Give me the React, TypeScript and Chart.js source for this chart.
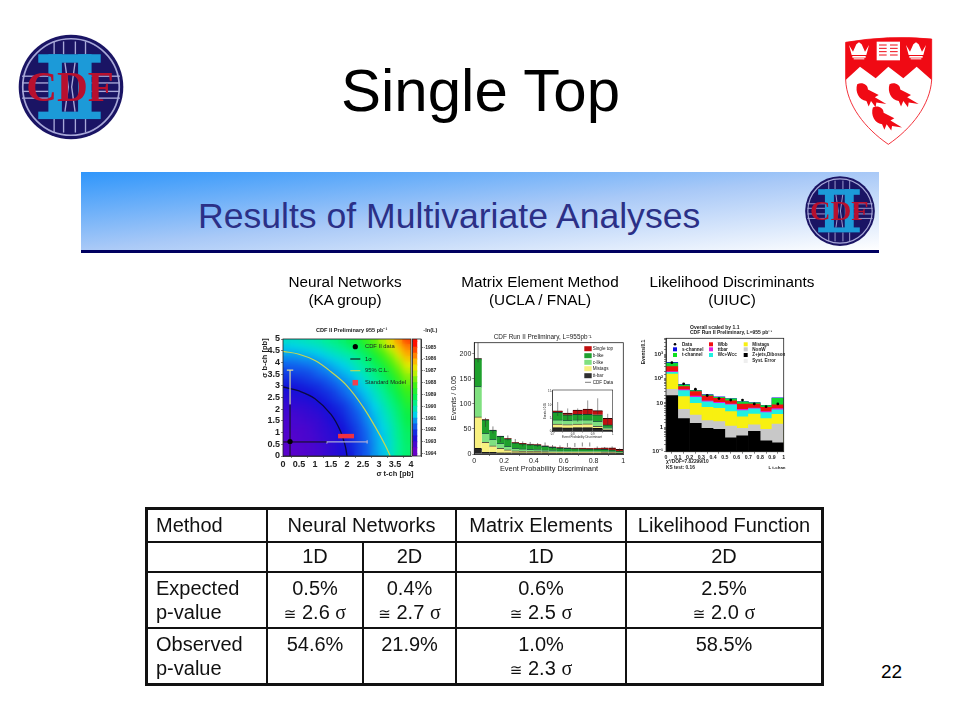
import React, { useEffect, useRef } from "react";
import { Chart, registerables } from "chart.js";

Chart.register(...registerables);

/* ---------- data: neural network likelihood map ---------- */
const heatX = [0.125, 0.375, 0.625, 0.875, 1.125, 1.375, 1.625, 1.875, 2.125, 2.375, 2.625, 2.875, 3.125, 3.375, 3.625, 3.875];
const heatRows = [
  [2, 2, 3, 4, 5, 7, 9, 11, 13, 17, 20, 25, 28, 33, 38, 42],
  [2, 3, 3, 4, 5, 7, 9, 11, 14, 17, 20, 25, 29, 33, 38, 42],
  [3, 3, 4, 4, 6, 7, 9, 11, 14, 17, 21, 25, 29, 33, 38, 43],
  [3, 3, 4, 5, 6, 8, 9, 12, 14, 18, 21, 26, 29, 34, 39, 43],
  [4, 4, 4, 5, 7, 8, 10, 12, 15, 18, 22, 26, 30, 34, 39, 44],
  [4, 5, 5, 6, 7, 9, 11, 13, 16, 19, 23, 27, 31, 35, 40, 45],
  [5, 5, 6, 7, 8, 10, 12, 14, 17, 20, 24, 28, 32, 36, 41, 46],
  [6, 6, 7, 8, 9, 11, 13, 15, 18, 21, 25, 29, 33, 37, 42, 47],
  [7, 8, 8, 9, 11, 12, 14, 16, 19, 23, 26, 30, 34, 39, 43, 49],
  [9, 9, 10, 11, 12, 14, 16, 18, 21, 24, 28, 32, 36, 40, 45, 51],
  [10, 11, 11, 12, 14, 15, 17, 20, 23, 26, 29, 33, 37, 42, 47, 53],
  [12, 12, 13, 14, 15, 17, 19, 22, 24, 28, 31, 35, 39, 44, 49, 56],
  [14, 14, 15, 16, 17, 19, 21, 24, 26, 29, 33, 37, 41, 45, 52, 59],
  [16, 16, 17, 18, 20, 21, 24, 26, 28, 31, 35, 39, 43, 48, 55, 61],
  [18, 19, 19, 20, 22, 24, 26, 28, 30, 34, 37, 41, 45, 51, 58, 65],
  [21, 21, 22, 23, 24, 26, 28, 30, 33, 36, 39, 44, 48, 55, 61, 69],
  [24, 24, 25, 25, 27, 29, 31, 33, 35, 38, 42, 46, 52, 58, 65, 73],
  [27, 27, 28, 29, 30, 32, 34, 36, 38, 41, 44, 50, 56, 62, 70, 77],
  [29, 30, 31, 32, 33, 35, 37, 39, 42, 44, 49, 54, 60, 67, 73, 80],
  [33, 33, 34, 35, 36, 38, 40, 42, 45, 48, 53, 58, 64, 71, 78, 85],
];
const contourOneSigma = [
  { x: 0, y: 2.95 }, { x: 0.5, y: 2.78 }, { x: 1, y: 2.45 }, { x: 1.5, y: 1.78 },
  { x: 1.8, y: 1.05 }, { x: 1.95, y: 0.4 }, { x: 2, y: 0 },
];
const contour95 = [
  { x: 0, y: 4.47 }, { x: 0.5, y: 4.35 }, { x: 1, y: 4.08 }, { x: 1.5, y: 3.6 }, { x: 2, y: 3 },
  { x: 2.5, y: 2.1 }, { x: 2.9, y: 1.2 }, { x: 3.2, y: 0.45 }, { x: 3.35, y: 0 },
];
const dataPoint = [{ x: 0.22, y: 0.62 }];
const standardModel = [{ x: 1.72, y: 0.85 }, { x: 2.22, y: 0.85 }];
const horizBlack = [{ x: 0, y: 0.6 }, { x: 1.37, y: 0.6 }];
const horizGrey = [{ x: 1.37, y: 0.53 }, { x: 1.37, y: 0.6 }, { x: 2.63, y: 0.6 }, { x: 2.63, y: 0.53 }, { x: 2.63, y: 0.67 }];
const vertBlack = [{ x: 0.22, y: 0 }, { x: 0.22, y: 2.2 }];
const vertYellow = [{ x: 0.22, y: 2.2 }, { x: 0.22, y: 3.67 }, { x: 0.12, y: 3.67 }, { x: 0.32, y: 3.67 }];
const colorbarLevels = [-1994.5, -1994, -1993.5, -1993, -1992.5, -1992, -1991.5, -1991, -1990.5, -1990, -1989.5, -1989, -1988.5, -1988, -1987.5, -1987, -1986.5, -1986, -1985.5, -1985, -1984.5];

/* ---------- data: matrix element ---------- */
const meBins = [0.025, 0.075, 0.125, 0.175, 0.225, 0.275, 0.325, 0.375, 0.425, 0.475, 0.525, 0.575, 0.625, 0.675, 0.725, 0.775, 0.825, 0.875, 0.925, 0.975];
const meTtbar = [11, 3, 3, 2, 2, 2, 2, 2, 2, 2, 1.5, 1.5, 1.5, 1.5, 1.5, 1.5, 1.5, 1.5, 1.5, 1];
const meMistag = [63, 20, 13, 9, 6, 4, 3.5, 3, 3, 2.5, 2.5, 2, 2, 2, 2, 2, 2, 1.5, 1.5, 1];
const meCLike = [61, 18, 13, 10, 7, 5, 4.5, 4, 3.5, 3, 3, 2.5, 2.5, 2, 2, 2, 2, 2, 1.5, 1];
const meBLike = [55, 27, 18, 14, 15, 11, 10, 9.5, 9, 7.5, 6, 5.5, 5, 5, 4.5, 4, 4, 4, 3.5, 2.5];
const meSingleTop = [0.3, 0.5, 0.6, 0.7, 0.8, 0.8, 1, 1, 1, 1, 1, 1, 1, 1.2, 1.5, 1.8, 2, 3, 4, 3.5];
const meData = [205, 63, 48, 30, 32, 25, 20, 20, 18, 19, 14, 13, 18, 18, 19, 19, 12, 11, 12, 8];
const meErr = [22, 9, 7, 6, 5, 5, 5, 4, 4, 4, 4, 4, 4, 4, 4, 4, 3, 3, 3, 3];

const insetBins = [0.725, 0.775, 0.825, 0.875, 0.925, 0.975];
const insetTtbar = [1.5, 1.4, 1.5, 1.5, 1.2, 0.6];
const insetMistag = [1.3, 1.2, 1.3, 1.4, 0.8, 0.2];
const insetCLike = [1.6, 1.6, 1.6, 1.5, 1.9, 0.7];
const insetBLike = [2.8, 2.1, 2.1, 2.1, 2.4, 1];
const insetSingleTop = [0.55, 0.6, 1.6, 1.9, 1.6, 2.5];
const insetData = [8.5, 6.5, 6.2, 9, 9.5, 4.5];
const insetErr = [2.6, 2.2, 2.5, 2.7, 3, 2.2];

/* ---------- data: likelihood (cumulative stack tops) ---------- */
const llBins = [0.05, 0.15, 0.25, 0.35, 0.45, 0.55, 0.65, 0.75, 0.85, 0.95];
const llZjets = [20, 2.3, 1.46, 0.9, 0.83, 0.37, 0.45, 0.68, 0.28, 0.23];
const llNonW = [36, 5.5, 3.2, 1.9, 1.7, 1.13, 0.9, 1.25, 0.83, 1.37];
const llMistag = [150, 18, 9.7, 6.6, 6, 4.4, 2.7, 3.5, 2.3, 3.4];
const llWcc = [177, 32, 17, 11, 9.7, 8.3, 4.8, 5.7, 4, 5.2];
const llTtbar = [190, 35, 19, 12, 10.5, 9, 5.4, 6.2, 4.4, 5.8];
const llWbb = [310, 47, 29, 19, 15.5, 12, 9, 9, 6.6, 8.3];
const llTchan = [430, 55, 32, 21, 17, 14.6, 11, 10, 7.8, 15.5];
const llSchan = [460, 58, 33, 22, 17.5, 15, 11.3, 10.3, 8, 16];
const llData = [440, 60, 36, 20, 15, 13, 13, 9, 7, 9];

/* ---------- helpers ---------- */
const FAMILY = "'Liberation Sans', Arial, sans-serif";
const font = (size: number, weight: any = "normal") => ({ family: FAMILY, size, weight });
const numLabel = (v: any) => String(Math.round(Number(v) * 10) / 10);
const colorStops: [number, number[]][] = [
  [0, [104, 0, 200]], [12, [20, 16, 216]], [22, [16, 110, 240]], [30, [0, 210, 235]], [38, [0, 240, 150]],
  [46, [10, 240, 70]], [56, [70, 240, 16]], [68, [225, 240, 0]], [76, [255, 176, 0]], [90, [255, 16, 0]],
];
function levelColor(v: number) {
  for (let i = 1; i < colorStops.length; i++) {
    const [a, ca] = colorStops[i - 1];
    const [b, cb] = colorStops[i];
    if (v <= b) {
      const t = Math.max(0, (v - a) / (b - a));
      return `rgb(${ca.map((c, k) => Math.round(c + (cb[k] - c) * t)).join(",")})`;
    }
  }
  return "rgb(255,16,0)";
}

type Item = {
  x: number; y: number; text?: string; size?: number; weight?: string; color?: string; align?: CanvasTextAlign; rot?: number;
  rect?: [number, number, string]; dot?: [number, string]; dash?: [number, string, number];
};
function overlay(ox: number, oy: number, items: Item[], whiteArea = false, frameWidth = 0.8) {
  return {
    id: "overlay",
    beforeDatasetsDraw(chart: any) {
      if (!whiteArea) return;
      const a = chart.chartArea;
      chart.ctx.save();
      chart.ctx.fillStyle = "#fff";
      chart.ctx.fillRect(a.left, a.top, a.right - a.left, a.bottom - a.top);
      chart.ctx.restore();
    },
    afterDraw(chart: any) {
      const ctx = chart.ctx;
      const a = chart.chartArea;
      ctx.save();
      ctx.strokeStyle = "#222";
      ctx.lineWidth = frameWidth;
      ctx.strokeRect(a.left, a.top, a.right - a.left, a.bottom - a.top);
      for (const it of items) {
        const px = it.x - ox;
        const py = it.y - oy;
        if (it.rect) {
          ctx.fillStyle = it.rect[2];
          ctx.fillRect(px - it.rect[0] / 2, py - it.rect[1] / 2, it.rect[0], it.rect[1]);
        }
        if (it.dot) {
          ctx.fillStyle = it.dot[1];
          ctx.beginPath();
          ctx.arc(px, py, it.dot[0], 0, Math.PI * 2);
          ctx.fill();
        }
        if (it.dash) {
          ctx.strokeStyle = it.dash[1];
          ctx.lineWidth = it.dash[2];
          ctx.beginPath();
          ctx.moveTo(px - it.dash[0] / 2, py);
          ctx.lineTo(px + it.dash[0] / 2, py);
          ctx.stroke();
        }
        if (it.text) {
          ctx.save();
          ctx.translate(px, py);
          if (it.rot) ctx.rotate(it.rot);
          ctx.font = `${it.weight || "normal"} ${it.size || 6}px ${FAMILY}`;
          ctx.fillStyle = it.color || "#222";
          ctx.textAlign = it.align || "left";
          ctx.textBaseline = "middle";
          ctx.fillText(it.text, 0, 0);
          ctx.restore();
        }
      }
      ctx.restore();
    },
  };
}

/* Softens the finished heat cells so the map reads as a smooth gradient. */
function smoothMap(lastBarIndex: number, blurPx: number) {
  return {
    id: "smoothMap",
    afterDatasetDraw(chart: any, args: any) {
      if (args.index !== lastBarIndex) return;
      const a = chart.chartArea;
      const ctx = chart.ctx;
      const w = a.right - a.left;
      const h = a.bottom - a.top;
      ctx.save();
      ctx.beginPath();
      ctx.rect(a.left, a.top, w, h);
      ctx.clip();
      ctx.filter = `blur(${blurPx}px)`;
      ctx.drawImage(chart.canvas, a.left, a.top, w, h, a.left, a.top, w, h);
      ctx.restore();
    },
  };
}

function axis(extra: any, fitSize: number, axisName: "x" | "y", tickFont: any, pad = 1, tickLen = 2) {
  return {
    ...extra,
    offset: false,
    grid: { drawOnChartArea: false, drawTicks: true, tickLength: tickLen, tickColor: "#333", tickWidth: 0.6 },
    border: { display: true, color: "#222", width: 0.8 },
    ticks: { font: tickFont, color: "#222", padding: pad, autoSkip: false, maxRotation: 0, minRotation: 0, includeBounds: false, callback: numLabel, ...(extra.ticks || {}) },
    afterFit(s: any) {
      if (axisName === "x") s.height = fitSize;
      else s.width = fitSize;
    },
  };
}

const baseOptions = (top: number, right: number, left = 0, bottom = 0) => ({
  responsive: false,
  animation: false as const,
  events: [] as any[],
  layout: { autoPadding: false, padding: { top, right, left, bottom } },
  plugins: { legend: { display: false }, title: { display: false }, tooltip: { enabled: false } },
});

function errorSegments(xs: number[], ys: number[], es: number[]) {
  const out: any[] = [];
  xs.forEach((x, i) => {
    out.push({ x, y: ys[i] - es[i] }, { x, y: ys[i] + es[i] }, { x, y: null });
  });
  return out;
}
const pairs = (xs: number[], ys: number[]) => xs.map((x, i) => ({ x, y: ys[i] }));

const lineDs = (data: any[], color: string, width: number, extra: any = {}) => ({
  type: "line" as const, data, borderColor: color, borderWidth: width, pointRadius: 0, fill: false, order: -1, parsing: true, ...extra,
});

const edge = { top: 1, left: 0, right: 0, bottom: 0 };
const stackBar = (data: any[], color: string, top: string) => ({
  type: "bar" as const, data, backgroundColor: color, borderColor: top, borderWidth: edge, borderSkipped: false, stack: "h",
  barPercentage: 1, categoryPercentage: 1, inflateAmount: 0.4,
});

/* ---------- chart configs ---------- */
function heatConfig() {
  const ox = 250, oy = 322;
  const bars = heatRows.map((row) => ({
    type: "bar" as const,
    data: heatX.map((x) => ({ x, y: 0.25 })),
    backgroundColor: row.map(levelColor),
    stack: "heat",
    barPercentage: 1,
    categoryPercentage: 1,
    inflateAmount: 0.7,
  }));
  const items: Item[] = [
    { x: 351.7, y: 330, text: "CDF II Preliminary 955 pb⁻¹", size: 5.6, weight: "bold", align: "center" },
    { x: 265, y: 358, text: "σ b-ch [pb]", size: 7.5, weight: "bold", align: "center", rot: -Math.PI / 2 },
    { x: 395, y: 474, text: "σ t-ch [pb]", size: 7.5, weight: "bold", align: "center" },
    { x: 355.3, y: 346.7, dot: [2.6, "#000"] },
    { x: 365, y: 346.7, text: "CDF II data", size: 5.8 },
    { x: 355.3, y: 359, dash: [10, "#111", 1.1] },
    { x: 365, y: 359, text: "1σ", size: 5.8 },
    { x: 355.3, y: 370.7, dash: [10, "#c8d850", 1.1] },
    { x: 365, y: 370.7, text: "95% C.L.", size: 5.8 },
    { x: 355.3, y: 382.7, rect: [5.5, 5.5, "#f04050"] },
    { x: 365, y: 382.7, text: "Standard Model", size: 5.8 },
  ];
  const lines = [
    lineDs(dataPoint, "#000", 0, { pointRadius: 2.6, pointBackgroundColor: "#000", showLine: false, order: -3 }),
    lineDs(standardModel, "#f03040", 4.5, { order: -2 }),
    lineDs(horizBlack, "#111", 1),
    lineDs(horizGrey, "#a8a8d8", 1.3),
    lineDs(vertBlack, "#111", 1),
    lineDs(vertYellow, "#d8d8a0", 1.2),
    lineDs(contourOneSigma, "#0a0a40", 1.3, { tension: 0.4 }),
    lineDs(contour95, "#c8d850", 1.2, { tension: 0.4 }),
  ];
  return {
    type: "bar" as const,
    data: { datasets: [...lines, ...bars] },
    options: {
      ...baseOptions(339 - oy, 430 - 411),
      scales: {
        x: axis({ type: "linear", min: 0, max: 4, ticks: { stepSize: 0.5 } }, 490 - 456, "x", font(9, "bold")),
        y: axis({ type: "linear", min: 0, max: 5, ticks: { stepSize: 0.5 } }, 283 - ox, "y", font(9, "bold")),
      },
    },
    plugins: [smoothMap(lines.length, 3), overlay(ox, oy, items)],
  };
}

function colorbarConfig() {
  const ox = 405, oy = 322;
  return {
    type: "bar" as const,
    data: {
      labels: ["z"],
      datasets: colorbarLevels.map((l) => ({
        data: [[l, l + 0.5]],
        backgroundColor: levelColor((l + 1994) * 10),
        grouped: false,
        barPercentage: 1,
        categoryPercentage: 1,
        inflateAmount: 0.5,
      })),
    },
    options: {
      ...baseOptions(339 - oy, 0, 412.5 - ox, 490 - 456),
      scales: {
        x: { display: false, offset: false },
        y: axis({ type: "linear", position: "right", min: -1994.2, max: -1984.3, ticks: { stepSize: 1, callback: (v: any) => String(Math.round(v)) } },
          450 - 421, "y", font(5, "bold"), 0.5, 2),
      },
    },
    plugins: [overlay(ox, oy, [{ x: 430.3, y: 330, text: "-ln(L)", size: 5.6, weight: "bold", align: "center" }])],
  };
}

function meConfig() {
  const ox = 445, oy = 325;
  const t = (y: number, text: string, color: string): Item[] => [
    { x: 588, y, rect: [7.4, 5, color] },
    { x: 592.7, y, text, size: 4.6 },
  ];
  const items: Item[] = [
    { x: 542.7, y: 337.3, text: "CDF Run II Preliminary, L=955pb⁻¹", size: 6.4, align: "center" },
    { x: 454, y: 398, text: "Events / 0.05", size: 7.6, align: "center", rot: -Math.PI / 2 },
    { x: 549, y: 469, text: "Event Probability Discriminant", size: 7.4, align: "center" },
    ...t(348.7, "Single top", "#c01010"),
    ...t(355.7, "b-like", "#20a030"),
    ...t(362.3, "c-like", "#80e080"),
    ...t(368.7, "Mistags", "#f8f080"),
    ...t(375.7, "tt-bar", "#303030"),
    { x: 588, y: 382.3, dash: [6, "#222", 0.6] },
    { x: 592.7, y: 382.3, text: "CDF Data", size: 4.6 },
  ];
  return {
    type: "bar" as const,
    data: {
      datasets: [
        stackBar(pairs(meBins, meTtbar), "#262626", "#111"),
        stackBar(pairs(meBins, meMistag), "#f8f080", "#554"),
        stackBar(pairs(meBins, meCLike), "#80e080", "#264"),
        stackBar(pairs(meBins, meBLike), "#1ea02c", "#143"),
        stackBar(pairs(meBins, meSingleTop), "#c01010", "#300"),
        lineDs(errorSegments(meBins, meData, meErr), "#333", 0.6),
      ],
    },
    options: {
      ...baseOptions(342.7 - oy, 635 - 623.3),
      scales: {
        x: axis({ type: "linear", min: 0, max: 1, ticks: { stepSize: 0.2 } }, 490 - 454, "x", font(7)),
        y: axis({ type: "linear", min: 0, max: 222, ticks: { stepSize: 50 } }, 474.3 - ox, "y", font(7)),
      },
    },
    plugins: [overlay(ox, oy, items)],
  };
}

function insetConfig() {
  const ox = 535, oy = 386;
  const items: Item[] = [
    { x: 545, y: 411, text: "Events / 0.05", size: 2.8, align: "center", rot: -Math.PI / 2 },
    { x: 582, y: 437, text: "Event Probability Discriminant", size: 3, align: "center" },
  ];
  return {
    type: "bar" as const,
    data: {
      datasets: [
        stackBar(pairs(insetBins, insetTtbar), "#262626", "#111"),
        stackBar(pairs(insetBins, insetMistag), "#f8f080", "#554"),
        stackBar(pairs(insetBins, insetCLike), "#80e080", "#264"),
        stackBar(pairs(insetBins, insetBLike), "#1ea02c", "#143"),
        stackBar(pairs(insetBins, insetSingleTop), "#c01010", "#300"),
        lineDs(errorSegments(insetBins, insetData, insetErr), "#333", 0.5),
      ],
    },
    options: {
      ...baseOptions(390 - oy, 617 - 612.7),
      scales: {
        x: axis({ type: "linear", min: 0.7, max: 1, ticks: { stepSize: 0.1 } }, 441 - 431.7, "x", font(2.8), 0.2, 0.8),
        y: axis({ type: "linear", min: 0, max: 15.6, ticks: { stepSize: 5 } }, 552.7 - ox, "y", font(2.8), 0.5, 1),
      },
    },
    plugins: [overlay(ox, oy, items, true, 0.6)],
  };
}

function llConfig() {
  const ox = 640, oy = 320;
  const bar = (vals: number[], color: string) => ({
    type: "bar" as const, data: pairs(llBins, vals), backgroundColor: color, grouped: false,
    barPercentage: 1, categoryPercentage: 1, inflateAmount: 0.3,
  });
  const items: Item[] = [
    { x: 690, y: 327.3, text: "Overall scaled by 1.1", size: 5, weight: "bold" },
    { x: 690, y: 332.7, text: "CDF Run II Preliminary, L=955 pb⁻¹", size: 5, weight: "bold" },
    { x: 644, y: 352, text: "Events/0.1", size: 5, weight: "bold", align: "center", rot: -Math.PI / 2 },
    { x: 666, y: 462, text: "χ²/DOF=7.82299/10", size: 4.8, weight: "bold" },
    { x: 666, y: 467.5, text: "KS test: 0.16", size: 4.8, weight: "bold" },
    { x: 777, y: 468, text: "L t-chan", size: 4.4, weight: "bold", align: "center" },
    { x: 675, y: 344.3, dot: [1.3, "#000"] },
    { x: 682, y: 344.3, text: "Data", size: 4.6, weight: "bold" },
    { x: 675, y: 349.3, rect: [4, 4, "#1010e0"] },
    { x: 682, y: 349.3, text: "s-channel", size: 4.6, weight: "bold" },
    { x: 675, y: 355, rect: [4, 4, "#10e020"] },
    { x: 682, y: 355, text: "t-channel", size: 4.6, weight: "bold" },
    { x: 711, y: 344.3, rect: [4, 4, "#f01010"] },
    { x: 717.7, y: 344.3, text: "Wbb", size: 4.6, weight: "bold" },
    { x: 711, y: 349.3, rect: [4, 4, "#e020e0"] },
    { x: 717.7, y: 349.3, text: "ttbar", size: 4.6, weight: "bold" },
    { x: 711, y: 355, rect: [4, 4, "#20f0e0"] },
    { x: 717.7, y: 355, text: "Wc+Wcc", size: 4.6, weight: "bold" },
    { x: 745.7, y: 344.3, rect: [4, 4, "#f8f010"] },
    { x: 752.3, y: 344.3, text: "Mistags", size: 4.6, weight: "bold" },
    { x: 745.7, y: 349.3, rect: [4, 4, "#c8c8c8"] },
    { x: 752.3, y: 349.3, text: "NonW", size: 4.6, weight: "bold" },
    { x: 745.7, y: 355, rect: [4, 4, "#000"] },
    { x: 752.3, y: 355, text: "Z+jets,Diboson", size: 4.6, weight: "bold" },
    { x: 745.7, y: 361, rect: [4, 4, "#eeeeee"] },
    { x: 752.3, y: 361, text: "Syst. Error", size: 4.6, weight: "bold" },
  ];
  return {
    type: "bar" as const,
    data: {
      datasets: [
        lineDs(pairs(llBins, llData), "#000", 0, { showLine: false, pointRadius: 1.4, pointBackgroundColor: "#000", order: -2 }),
        bar(llZjets, "#000000"),
        bar(llNonW, "#c8c8c8"),
        bar(llMistag, "#f8f010"),
        bar(llWcc, "#20f0e0"),
        bar(llTtbar, "#e020e0"),
        bar(llWbb, "#f01010"),
        bar(llTchan, "#10d830"),
        bar(llSchan, "#1010e0"),
      ],
    },
    options: {
      ...baseOptions(338.3 - oy, 800 - 783.7),
      scales: {
        x: axis({ type: "linear", min: 0, max: 1, ticks: { stepSize: 0.1 } }, 495 - 451.7, "x", font(5.2, "bold"), 0.5),
        y: axis({
          type: "logarithmic", min: 0.1, max: 4400,
          ticks: {
            callback: (v: any) => {
              const l = Math.log10(v);
              if (Math.abs(l - Math.round(l)) > 1e-6) return "";
              return ({ "-1": "10⁻¹", "0": "1", "1": "10", "2": "10²", "3": "10³" } as any)[String(Math.round(l))] ?? "";
            },
          },
        }, 666 - ox, "y", font(6, "bold")),
      },
    },
    plugins: [overlay(ox, oy, items)],
  };
}

/* ---------- components ---------- */
function Plot({ x, y, w, h, config }: { x: number; y: number; w: number; h: number; config: () => any }) {
  const ref = useRef<HTMLCanvasElement>(null);
  useEffect(() => {
    const c = new Chart(ref.current as any, config());
    return () => c.destroy();
  }, []);
  return (
    <canvas
      ref={ref}
      width={w}
      height={h}
      style={{ position: "absolute", left: x, top: y, width: w, height: h, filter: "blur(0.55px)" }}
    />
  );
}

function CdfLogo({ x, y, w, h }: { x: number; y: number; w: number; h: number }) {
  const navy = "#1a1464";
  const lilac = "#a8a8d8";
  const cyan = "#1c9ad8";
  return (
    <svg viewBox="-160 -160 320 320" style={{ position: "absolute", left: x, top: y, width: w, height: h, filter: "blur(0.4px)" }}>
      <circle r={155} fill={navy} />
      <circle r={143} fill="none" stroke={lilac} strokeWidth={5} />
      {[-50, -22, 13, 43].map((v) => (
        <g key={"v" + v} stroke={lilac} strokeWidth={4}>
          <line x1={v} x2={v} y1={-135} y2={-97} />
          <line x1={v} x2={v} y1={95} y2={135} />
        </g>
      ))}
      {[-32, -12, 13, 33].map((v) => (
        <g key={"h" + v} stroke={lilac} strokeWidth={4}>
          <line x1={-145} x2={-67} y1={v} y2={v} />
          <line x1={61} x2={145} y1={v} y2={v} />
        </g>
      ))}
      <rect x={-97} y={-97} width={185} height={25} fill={cyan} />
      <rect x={-97} y={73} width={185} height={22} fill={cyan} />
      <rect x={-67} y={-97} width={40} height={190} fill={cyan} />
      <rect x={21} y={-97} width={40} height={190} fill={cyan} />
      <path d="M-18,-72 L-8,0 L-18,73 M12,-72 L2,0 L12,73" fill="none" stroke={lilac} strokeWidth={4} />
      <text x={-3} y={42} textAnchor="middle" fontFamily="'Liberation Serif', serif" fontWeight="bold" fontSize={124} fill="#b8102e" textLength={260} lengthAdjust="spacingAndGlyphs">
        CDF
      </text>
    </svg>
  );
}

function Bird({ x, y }: { x: number; y: number }) {
  return (
    <path
      transform={`translate(${x} ${y}) scale(1.15)`}
      fill="#f00a14"
      d="M-36,-30 C-24,-36 -8,-30 -8,-16 L20,-2 L10,4 L40,22 L14,18 L12,30 L0,14 L-6,28 L-12,14 C-32,10 -42,-10 -36,-30Z"
    />
  );
}
function Crown({ x, y }: { x: number; y: number }) {
  return (
    <g transform={`translate(${x} ${y})`} fill="#fff">
      <path d="M-30,-22 L-18,-2 L-8,-24 L0,-30 L8,-24 L18,-2 L30,-22 L22,8 L-22,8Z" />
      <rect x={-20} y={11} width={40} height={5} />
      <rect x={-16} y={18} width={32} height={3} />
    </g>
  );
}
function Shield() {
  return (
    <svg viewBox="0 0 315 375" style={{ position: "absolute", left: 835, top: 25, width: 105, height: 125, filter: "blur(0.35px)" }}>
      <path d="M32,52 Q160,30 290,42 L290,165 C285,240 230,310 160,358 C90,310 35,240 32,165Z" fill="#fff" stroke="#f00a14" strokeWidth={2.5} />
      <path d="M32,52 Q160,30 290,42 L290,165 L245,125 L205,160 L160,125 L122,160 L75,125 L32,165Z" fill="#f00a14" />
      <Crown x={72} y={82} />
      <Crown x={243} y={82} />
      <rect x={125} y={50} width={70} height={56} fill="#fff" />
      {[60, 70, 80, 90].map((v) => (
        <g key={v} stroke="#f00a14" strokeWidth={3}>
          <line x1={132} x2={155} y1={v} y2={v} />
          <line x1={165} x2={188} y1={v} y2={v} />
        </g>
      ))}
      <Bird x={108} y={212} />
      <Bird x={205} y={212} />
      <Bird x={155} y={282} />
    </svg>
  );
}

const abs = (left: number, top: number, extra: React.CSSProperties = {}): React.CSSProperties => ({
  position: "absolute", left, top, fontFamily: FAMILY, color: "#000", whiteSpace: "nowrap", ...extra,
});

function PanelTitle({ cx, a, b }: { cx: number; a: string; b: string }) {
  return (
    <div style={abs(cx - 110, 273, { width: 220, textAlign: "center", fontSize: 15.3, lineHeight: "18px", filter: "blur(0.3px)" })}>
      {a}
      <br />
      {b}
    </div>
  );
}

const Sig = ({ v }: { v: string }) => (
  <>
    <span style={{ fontFamily: "'DejaVu Sans'", fontSize: 15 }}>≅</span> {v} <span style={{ fontFamily: "'Liberation Serif', serif" }}>σ</span>
  </>
);

const cellStyle: React.CSSProperties = { border: "2px solid #111", padding: "0", textAlign: "center", verticalAlign: "top" };
const top5: React.CSSProperties = { ...cellStyle, paddingTop: 4 };
const mid: React.CSSProperties = { ...cellStyle, verticalAlign: "middle" };
const leftCell: React.CSSProperties = { ...cellStyle, textAlign: "left", paddingLeft: 8, paddingTop: 4 };
const leftMid: React.CSSProperties = { ...mid, textAlign: "left", paddingLeft: 8 };

function ResultsTable() {
  return (
    <table
      style={{
        position: "absolute", left: 146, top: 508, width: 675, height: 175, tableLayout: "fixed", borderCollapse: "collapse",
        fontFamily: FAMILY, fontSize: 20, lineHeight: "23.5px", color: "#111", outline: "2.4px solid #111", outlineOffset: -1, filter: "blur(0.3px)",
      }}
    >
      <colgroup>
        <col style={{ width: 120 }} />
        <col style={{ width: 96 }} />
        <col style={{ width: 93 }} />
        <col style={{ width: 170 }} />
        <col style={{ width: 196 }} />
      </colgroup>
      <tbody>
        <tr style={{ height: 33 }}>
          <td style={leftMid}>Method</td>
          <td style={mid} colSpan={2}>Neural Networks</td>
          <td style={mid}>Matrix Elements</td>
          <td style={mid}>Likelihood Function</td>
        </tr>
        <tr style={{ height: 30 }}>
          <td style={mid}></td>
          <td style={mid}>1D</td>
          <td style={mid}>2D</td>
          <td style={mid}>1D</td>
          <td style={mid}>2D</td>
        </tr>
        <tr style={{ height: 56 }}>
          <td style={leftCell}>Expected<br />p-value</td>
          <td style={top5}>0.5%<br /><Sig v="2.6" /></td>
          <td style={top5}>0.4%<br /><Sig v="2.7" /></td>
          <td style={top5}>0.6%<br /><Sig v="2.5" /></td>
          <td style={top5}>2.5%<br /><Sig v="2.0" /></td>
        </tr>
        <tr style={{ height: 56 }}>
          <td style={leftCell}>Observed<br />p-value</td>
          <td style={top5}>54.6%</td>
          <td style={top5}>21.9%</td>
          <td style={top5}>1.0%<br /><Sig v="2.3" /></td>
          <td style={top5}>58.5%</td>
        </tr>
      </tbody>
    </table>
  );
}

export default function App() {
  return (
    <div style={{ position: "absolute", left: 0, top: 0, width: 960, height: 720, background: "#fff", overflow: "hidden" }}>
      <CdfLogo x={17} y={32} w={108} h={110} />
      <Shield />
      <div style={abs(341, 56, { fontSize: 60, lineHeight: "70px" })}>Single Top</div>

      <div style={{ position: "absolute", left: 81, top: 172, width: 798, height: 78, background: "linear-gradient(to bottom right, #2f96fb 0%, #a9c9f7 50%, #ffffff 100%)" }} />
      <div style={{ position: "absolute", left: 81, top: 250, width: 798, height: 3, background: "#000060" }} />
      <div style={abs(198, 195, { fontSize: 35.6, lineHeight: "42px", color: "#2b3087" })}>Results of Multivariate Analyses</div>
      <CdfLogo x={804} y={175} w={72} h={72} />

      <PanelTitle cx={345} a="Neural Networks" b="(KA group)" />
      <PanelTitle cx={540} a="Matrix Element Method" b="(UCLA / FNAL)" />
      <PanelTitle cx={732} a="Likelihood Discriminants" b="(UIUC)" />

      <Plot x={250} y={322} w={180} h={168} config={heatConfig} />
      <Plot x={405} y={322} w={45} h={168} config={colorbarConfig} />
      <Plot x={445} y={325} w={190} h={165} config={meConfig} />
      <Plot x={535} y={386} w={82} h={55} config={insetConfig} />
      <Plot x={640} y={320} w={160} h={175} config={llConfig} />

      <ResultsTable />
      <div style={abs(881, 661, { fontSize: 19, lineHeight: "22px" })}>22</div>
    </div>
  );
}
